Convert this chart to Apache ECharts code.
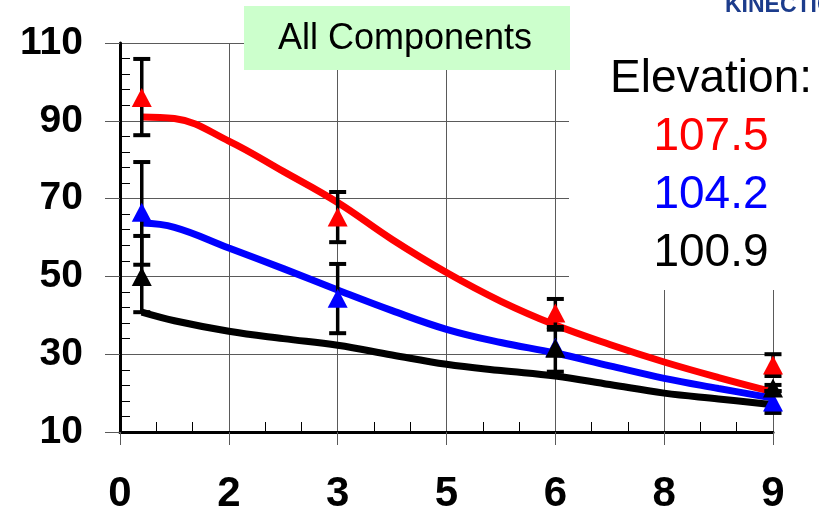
<!DOCTYPE html>
<html>
<head>
<meta charset="utf-8">
<script src="https://cdn.jsdelivr.net/npm/echarts@6/dist/echarts.min.js"></script>
<style>html,body{margin:0;padding:0;background:#fff}#c{width:819px;height:516px}</style>
</head>
<body>
<div id="c"></div>
<script>
// ---- data ----
const xTickLabels = ['0', '2', '3', '5', '6', '8', '9'];
const yTickLabels = ['10', '30', '50', '70', '90', '110'];
const seriesNames = ['107.5', '104.2', '100.9'];
const seriesColors = ['#ff0000', '#0000ff', '#000000'];

// fitted curves [x, y]
const redCurve = [[0.3,91],[0.75,90.6],[1.5,84.8],[2.25,77],[3,69],[3.75,59.5],[4.5,51],[5.25,43.6],[6,37.5],[6.75,32.5],[7.5,28],[8.25,24],[9,20.3]];
const blueCurve = [[0.3,63.7],[0.75,62.6],[1.5,57.3],[2.25,52],[3,46.5],[3.75,41.2],[4.5,36.4],[5.25,33],[6,30.3],[6.75,27],[7.5,23.8],[8.25,21.2],[9,18.7]];
const blackCurve = [[0.3,40.8],[0.75,38.6],[1.5,35.9],[2.25,34],[3,32.3],[3.75,29.8],[4.5,27.4],[5.25,25.8],[6,24.4],[6.75,22.2],[7.5,20],[8.25,18.5],[9,17]];

// measured points [x, y]
const redPoints = [[0.3,96],[3,65.3],[6,40.6],[9,27.2]];
const bluePoints = [[0.3,66.5],[3,44.4],[6,31.8],[9,17.7]];
const blackPoints = [[0.3,50],[6,31.5],[9,21.3]];

// error bars [x, low, high]
const redErr = [[0.3,86.3,105.9],[3,58.8,71.7],[6,37,44.2],[9,24.4,30]];
const blueErr = [[0.3,53,79.4],[3,35.4,53.2],[9,14.9,20.5]];
const blackErr = [[0.3,40.8,60.4],[6,25.5,36.3],[9,20.5,22.1]];

const chart = echarts.init(document.getElementById('c'));

function errRender(params, api) {
  const x = api.value(0), lo = api.value(1), hi = api.value(2);
  const p1 = api.coord([x, hi]), p2 = api.coord([x, lo]);
  const hw = 8.5;
  return {
    type: 'group',
    children: [
      { type: 'line', shape: { x1: p1[0], y1: p1[1], x2: p2[0], y2: p2[1] }, style: { stroke: '#000', lineWidth: 3.5 } },
      { type: 'line', shape: { x1: p1[0] - hw, y1: p1[1], x2: p1[0] + hw, y2: p1[1] }, style: { stroke: '#000', lineWidth: 4 } },
      { type: 'line', shape: { x1: p2[0] - hw, y1: p2[1], x2: p2[0] + hw, y2: p2[1] }, style: { stroke: '#000', lineWidth: 4 } }
    ]
  };
}

const curves = [redCurve, blueCurve, blackCurve];
const points = [redPoints, bluePoints, blackPoints];
const errs = [redErr, blueErr, blackErr];
const series = [];
curves.forEach((c, i) => series.push({
  type: 'line', name: seriesNames[i], data: c, smooth: 0.4, showSymbol: false, symbol: 'none',
  lineStyle: { color: seriesColors[i], width: 7 }, z: 2, silent: true, clip: false
}));
errs.forEach((e, i) => series.push({
  type: 'custom', data: e, renderItem: errRender, encode: { x: 0, y: [1, 2] }, z: 3, silent: true, clip: false
}));
points.forEach((p, i) => series.push({
  type: 'scatter', data: p, symbol: 'triangle', symbolSize: [20, 19],
  itemStyle: { color: seriesColors[i], opacity: 1 }, z: 4, silent: true, clip: false
}));

const gridColor = '#5a5a5a';
chart.setOption({
  animation: false,
  backgroundColor: '#fff',
  grid: { left: 120, right: 46, top: 43, bottom: 84 },
  xAxis: {
    type: 'value', min: 0, max: 9, interval: 1.5,
    axisLine: { show: true, onZero: false, lineStyle: { color: '#000', width: 3 } },
    axisTick: { show: true, length: 13, lineStyle: { color: gridColor, width: 1 } },
    minorTick: { show: true, splitNumber: 3, length: -10, lineStyle: { color: '#000', width: 1 } },
    splitLine: { show: true, lineStyle: { color: gridColor, width: 1 } },
    axisLabel: {
      margin: 41, color: '#000', fontSize: 42, fontWeight: 'bold', fontFamily: 'Liberation Sans, Arial, sans-serif',
      formatter: v => xTickLabels[Math.round(v / 1.5)]
    }
  },
  yAxis: {
    type: 'value', min: 10, max: 110, interval: 20,
    axisLine: { show: true, onZero: false, lineStyle: { color: '#000', width: 3 } },
    axisTick: { show: true, length: 15, lineStyle: { color: gridColor, width: 1 } },
    minorTick: { show: true, splitNumber: 5, length: -10, lineStyle: { color: '#000', width: 1 } },
    splitLine: { show: true, lineStyle: { color: gridColor, width: 1 } },
    axisLabel: {
      margin: 37, color: '#000', fontSize: 39, fontWeight: 'bold', fontFamily: 'Liberation Sans, Arial, sans-serif',
      formatter: v => yTickLabels[Math.round((v - 10) / 20)]
    }
  },
  graphic: [
    { type: 'rect', shape: { x: 569, y: 20, width: 250, height: 270 }, style: { fill: '#fff' }, z: 1 },
    { type: 'rect', shape: { x: 244, y: 6, width: 326, height: 64 }, style: { fill: '#ccffcc' }, z: 1 },
    { type: 'text', x: 405, y: 39, style: { text: 'All Components', fill: '#000', font: '36px "Liberation Sans", Arial, sans-serif', align: 'center', verticalAlign: 'middle' }, z: 5 },
    { type: 'text', x: 711, y: 79, style: { text: 'Elevation:', fill: '#000', font: '46px "Liberation Sans", Arial, sans-serif', align: 'center', verticalAlign: 'middle' }, z: 5 },
    { type: 'text', x: 711, y: 137, style: { text: seriesNames[0], fill: seriesColors[0], font: '46px "Liberation Sans", Arial, sans-serif', align: 'center', verticalAlign: 'middle' }, z: 5 },
    { type: 'text', x: 711, y: 195, style: { text: seriesNames[1], fill: seriesColors[1], font: '46px "Liberation Sans", Arial, sans-serif', align: 'center', verticalAlign: 'middle' }, z: 5 },
    { type: 'text', x: 711, y: 253, style: { text: seriesNames[2], fill: seriesColors[2], font: '46px "Liberation Sans", Arial, sans-serif', align: 'center', verticalAlign: 'middle' }, z: 5 },
    { type: 'text', x: 725, y: 6, style: { text: 'KINECTICS', fill: '#1c3c8c', font: 'bold 23px "Liberation Sans", Arial, sans-serif', align: 'left', verticalAlign: 'middle' }, z: 5 }
  ],
  series: series
});
</script>
</body>
</html>
